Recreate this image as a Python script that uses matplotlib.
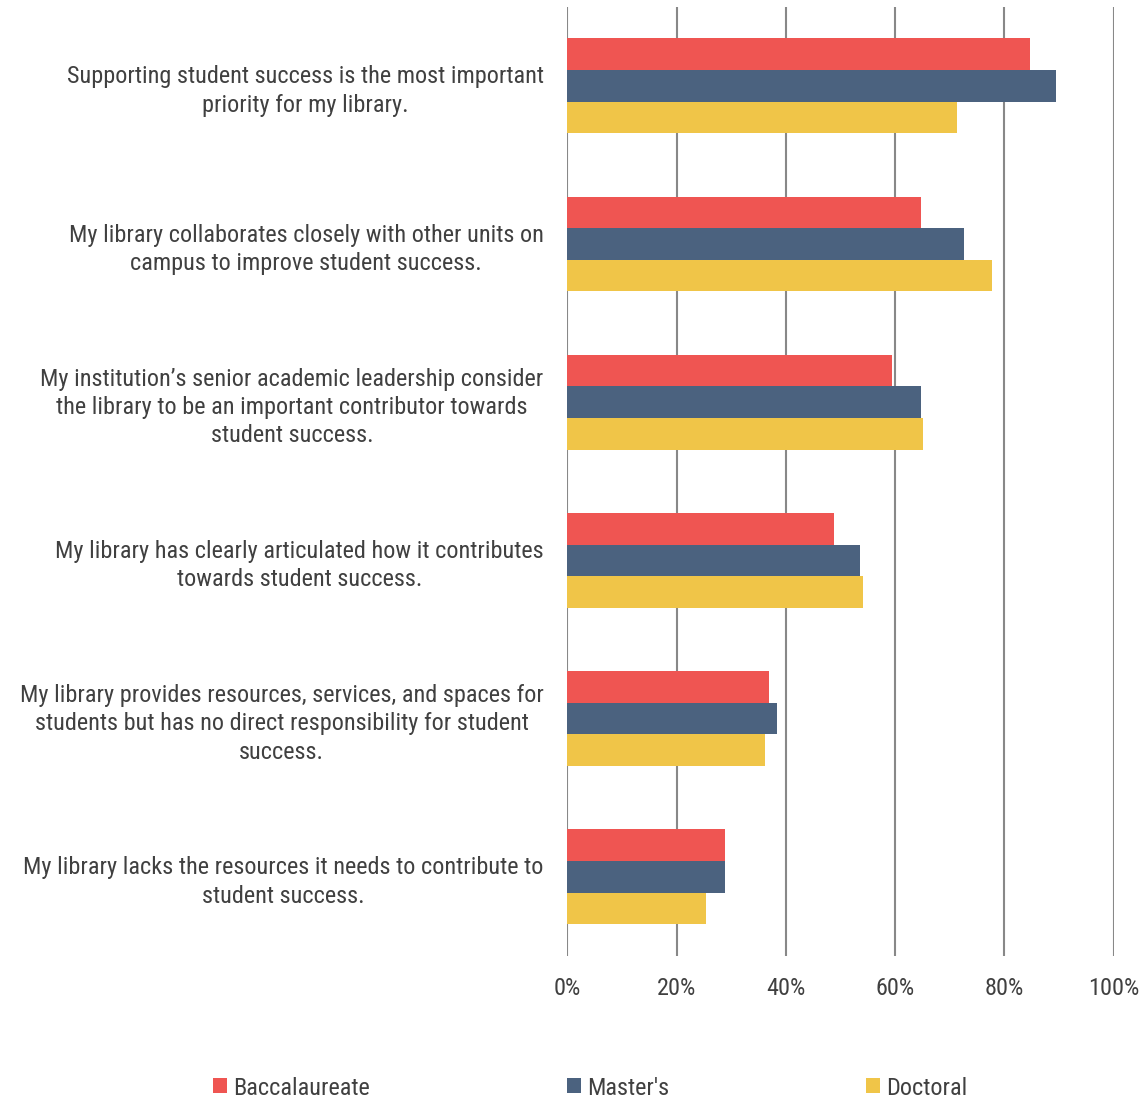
import matplotlib
matplotlib.use("Agg")
import matplotlib.pyplot as plt
import numpy as np
from matplotlib.patches import Patch
from matplotlib import font_manager as fm

categories = [
    "Supporting student success is the most important\npriority for my library.",
    "My library collaborates closely with other units on\ncampus to improve student success.",
    "My institution\u2019s senior academic leadership consider\nthe library to be an important contributor towards\nstudent success.",
    "My library has clearly articulated how it contributes\ntowards student success.",
    "My library provides resources, services, and spaces for\nstudents but has no direct responsibility for student\nsuccess.",
    "My library lacks the resources it needs to contribute to\nstudent success.",
]
series_names = ["Baccalaureate", "Master's", "Doctoral"]
baccalaureate = [84.7, 64.8, 59.4, 48.8, 36.9, 28.8]
masters = [89.4, 72.7, 64.8, 53.5, 38.4, 28.9]
doctoral = [71.4, 77.7, 65.2, 54.1, 36.2, 25.3]
xticks = [0, 20, 40, 60, 80, 100]
xtick_labels = ["0%", "20%", "40%", "60%", "80%", "100%"]

colors = ["#EF5552", "#4B627F", "#F0C548"]
text_color = "#404040"
available = {f.name for f in fm.fontManager.ttflist}
candidates = ["Liberation Sans Narrow", "Arial Narrow", "Roboto Condensed", "Archivo Narrow", "PT Sans Narrow"]
font = [f for f in candidates if f in available][:1] + ["DejaVu Sans"]
plt.rcParams["font.family"] = font
fs = 17.5

fig = plt.figure(figsize=(11.48, 11.02), dpi=100)
ax = fig.add_axes([567.3 / 1148, 1 - 956 / 1102, (1113.6 - 567.3) / 1148, (956 - 6.7) / 1102])

y = np.arange(len(categories))
h = 0.2
for k, (vals, c) in enumerate(zip([baccalaureate, masters, doctoral], colors)):
    ax.barh(y + (k - 1) * h, vals, height=h, color=c, zorder=2)

ax.set_xlim(0, 100)
ax.set_ylim(len(categories) - 0.5, -0.5)
ax.set_xticks(xticks)
ax.set_xticklabels(xtick_labels)
ax.set_yticks(y)
ax.set_yticklabels(categories, ha="right", multialignment="center", linespacing=1.3)
ax.tick_params(axis="both", length=0, labelsize=fs, labelcolor=text_color)
ax.tick_params(axis="x", pad=15)
ax.tick_params(axis="y", pad=17)
for s in ax.spines.values():
    s.set_visible(False)
ax.grid(axis="x", color="#888888", linewidth=1.5, zorder=0)
ax.set_axisbelow(True)

handles = [Patch(facecolor=c, edgecolor="none") for c in colors]
leg = fig.legend(handles, series_names, loc="center", bbox_to_anchor=(0.514, 0.0127),
                 ncol=3, frameon=False, fontsize=fs, handlelength=0.58, handleheight=0.58,
                 handletextpad=0.25, columnspacing=8.1)
for t in leg.get_texts():
    t.set_color(text_color)

fig.savefig("out.png", dpi=100)
